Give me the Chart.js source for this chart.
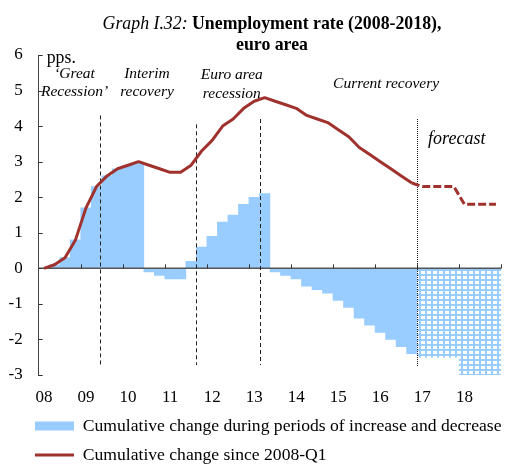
<!DOCTYPE html>
<html><head><meta charset="utf-8">
<script src="https://cdn.jsdelivr.net/npm/chart.js@4/dist/chart.umd.min.js"></script>
<style>html,body{margin:0;padding:0;background:#fff}#wrap{width:508px;height:464px;position:relative}</style>
</head><body><div id="wrap"><canvas id="c" width="508" height="464"></canvas></div>
<script>
// ---- data ----
const years = ['08','09','10','11','12','13','14','15','16','17','18'];
const quarterNames = ['Q1','Q2','Q3','Q4'];
// cumulative change in unemployment rate since 2008-Q1 (pps), quarterly
const cumulativeSince2008 = [
  0.0, 0.1, 0.3, 0.8,
  1.7, 2.3, 2.6, 2.8,
  2.9, 3.0, 2.9, 2.8,
  2.7, 2.7, 2.9, 3.3,
  3.6, 4.0, 4.2, 4.5,
  4.7, 4.8, 4.7, 4.6,
  4.5, 4.3, 4.2, 4.1,
  3.9, 3.7, 3.4, 3.2,
  3.0, 2.8, 2.6, 2.4,
  2.3, 2.3, 2.3, 2.3,
  1.8, 1.8, 1.8, 1.8
];
// cumulative change during periods of increase and decrease (pps), quarterly
const cumulativePhase = [
  0.0, 0.1, 0.3, 0.8,
  1.7, 2.3, 2.6, 2.8,
  2.9, 2.95, -0.1, -0.2,
  -0.3, -0.3, 0.2, 0.6,
  0.9, 1.3, 1.5, 1.8,
  2.0, 2.1, -0.1, -0.2,
  -0.3, -0.5, -0.6, -0.7,
  -0.9, -1.1, -1.4, -1.6,
  -1.8, -2.0, -2.2, -2.4,
  -2.5, -2.5, -2.5, -2.5,
  -3.0, -3.0, -3.0, -3.0
];
const forecastStart = 36;           // first forecast quarter (2017-Q1)
const phaseDividers = [5.3, 14.45, 20.6]; // quarter positions of phase boundaries
const dividerTops = [4.3, 4.05, 4.2];
const yTicks = [-3,-2,-1,0,1,2,3,4,5,6];

const quarters = [];
years.forEach(y => quarterNames.forEach(q => quarters.push('20' + y + '-' + q)));

// ---- styles ----
const FONT = '"Liberation Serif", "Times New Roman", serif';
const BLUE = '#99CCFF';
const RED = '#A0322E';

function makePattern() {
  const c = document.createElement('canvas');
  c.width = 6; c.height = 5;
  const g = c.getContext('2d');
  g.fillStyle = BLUE; g.fillRect(0,0,6,5);
  g.fillStyle = '#FFFFFF'; g.fillRect(1,1,4,3);
  return g.createPattern(c, 'repeat');
}
const pattern = makePattern();

const overlayPlugin = {
  id: 'overlay',
  afterLayout(chart) {
    // legend starts under the plot's left edge
    chart.legend.left += 19.6;
  },
  afterDatasetDraw(chart, args) {
    if (args.meta.type !== 'bar') return;
    const {ctx, chartArea} = chart;
    const xs = chart.scales.x, ys = chart.scales.y;
    const y0 = ys.getPixelForValue(0);
    ctx.save();
    // zero line
    ctx.strokeStyle = '#555';
    ctx.lineWidth = 1.5;
    ctx.beginPath();
    ctx.moveTo(chartArea.left, y0); ctx.lineTo(chartArea.right, y0);
    ctx.stroke();
    // year ticks on zero line
    ctx.lineWidth = 1;
    ctx.strokeStyle = '#333';
    for (let k = 1; k <= years.length; k++) {
      const px = Math.round(xs.getPixelForValue(4 * k - 0.5)) + 0.5;
      ctx.beginPath(); ctx.moveTo(px, y0); ctx.lineTo(px, y0 - 4); ctx.stroke();
    }
    // y ticks (inward)
    yTicks.forEach(v => {
      const py = Math.round(ys.getPixelForValue(v)) + 0.5;
      ctx.beginPath(); ctx.moveTo(chartArea.left, py); ctx.lineTo(chartArea.left + 4, py); ctx.stroke();
    });
    // phase dividers (dashed)
    ctx.strokeStyle = '#222';
    ctx.setLineDash([4, 3]);
    phaseDividers.forEach((p, i) => {
      const px = Math.round(xs.getPixelForValue(p)) + 0.5;
      ctx.beginPath();
      ctx.moveTo(px, ys.getPixelForValue(dividerTops[i]));
      ctx.lineTo(px, ys.getPixelForValue(-2.72));
      ctx.stroke();
    });
    // forecast divider (dotted)
    ctx.setLineDash([1, 1]);
    const fx = Math.round(xs.getPixelForValue(forecastStart - 0.5)) + 0.5;
    ctx.beginPath();
    ctx.moveTo(fx, ys.getPixelForValue(4.2));
    ctx.lineTo(fx, ys.getPixelForValue(-2.75));
    ctx.stroke();
    ctx.restore();
  },
  afterDraw(chart) {
    const {ctx} = chart;
    const xs = chart.scales.x, ys = chart.scales.y;
    ctx.save();
    ctx.fillStyle = '#000';
    ctx.textBaseline = 'middle';
    // title
    const t1 = 'Graph I.32: ', t2 = 'Unemployment rate (2008-2018),';
    ctx.font = 'italic 17.8px ' + FONT;
    const w1 = ctx.measureText(t1).width;
    ctx.font = 'bold 17.8px ' + FONT;
    const w2 = ctx.measureText(t2).width;
    const cx = 272;
    let sx = cx - (w1 + w2) / 2;
    ctx.textAlign = 'left';
    ctx.font = 'italic 17.8px ' + FONT;
    ctx.fillText(t1, sx, 24);
    ctx.font = 'bold 17.8px ' + FONT;
    ctx.fillText(t2, sx + w1, 24);
    ctx.textAlign = 'center';
    ctx.fillText('euro area', cx, 45);
    // unit
    ctx.font = '17.8px ' + FONT;
    ctx.textAlign = 'left';
    ctx.fillText('pps.', chart.chartArea.left + 8, ys.getPixelForValue(5.92));
    // period annotations
    ctx.font = 'italic 15.5px ' + FONT;
    ctx.textAlign = 'center';
    const notes = [
      ['\u2018Great', 2.91, 5.47], ['Recession\u2019', 2.91, 4.97],
      ['Interim', 9.8, 5.47], ['recovery', 9.8, 4.97],
      ['Euro area', 17.87, 5.44], ['recession', 17.87, 4.9],
      ['Current recovery', 32.55, 5.19]
    ];
    notes.forEach(n => ctx.fillText(n[0], xs.getPixelForValue(n[1]), ys.getPixelForValue(n[2])));
    ctx.font = 'italic 18px ' + FONT;
    ctx.fillText('forecast', xs.getPixelForValue(39.27), ys.getPixelForValue(3.62));
    ctx.restore();
  }
};

new Chart(document.getElementById('c'), {
  data: {
    labels: quarters,
    datasets: [
      {
        type: 'bar',
        label: 'Cumulative change during periods of increase and decrease',
        data: cumulativePhase,
        backgroundColor: c => c.dataIndex >= forecastStart ? pattern : BLUE,
        borderWidth: 0,
        barPercentage: 1,
        categoryPercentage: 1,
        order: 2
      },
      {
        type: 'line',
        label: 'Cumulative change since 2008-Q1',
        data: cumulativeSince2008,
        borderColor: RED,
        borderWidth: 3,
        pointRadius: 0,
        tension: 0,
        borderJoinStyle: 'round',
        borderCapStyle: 'butt',
        segment: {
          borderDash: c => c.p1DataIndex >= forecastStart ? [8, 3] : undefined
        },
        order: 1
      }
    ]
  },
  options: {
    responsive: false,
    animation: false,
    events: [],
    devicePixelRatio: 1,
    layout: { padding: { top: 55, left: 4, right: 4, bottom: -9.8 } },
    scales: {
      x: {
        type: 'category',
        offset: true,
        grid: { display: false, drawTicks: false },
        border: { display: false },
        ticks: {
          autoSkip: false, maxRotation: 0, minRotation: 0, padding: 12,
          color: '#000', font: { family: FONT, size: 17 },
          callback: (v, i) => (i % 4 === 0 ? years[i / 4] : '')
        },
        afterFit: s => { s.height = 30.8; }
      },
      y: {
        min: -3, max: 6,
        grid: { display: true, drawOnChartArea: false, drawTicks: false },
        border: { display: true, color: '#444', width: 1 },
        ticks: {
          stepSize: 1, padding: 16, color: '#000',
          font: { family: FONT, size: 17 },
          callback: v => String(v)
        },
        afterFit: s => { s.width = 34.7; }
      }
    },
    plugins: {
      title: { display: false },
      tooltip: { enabled: false },
      legend: {
        display: true,
        position: 'bottom',
        align: 'start',
        labels: {
          usePointStyle: true,
          pointStyleWidth: 39,
          boxHeight: 9,
          padding: 11.4,
          color: '#000',
          font: { family: FONT, size: 17.6 },
          generateLabels: chart => chart.data.datasets.map((d, i) => ({
            text: d.label,
            fillStyle: i === 0 ? BLUE : RED,
            strokeStyle: i === 0 ? BLUE : RED,
            lineWidth: i === 0 ? 0 : 3,
            pointStyle: i === 0 ? 'rect' : 'line',
            hidden: false,
            datasetIndex: i
          }))
        }
      }
    }
  },
  plugins: [overlayPlugin]
});
</script>
</body></html>
